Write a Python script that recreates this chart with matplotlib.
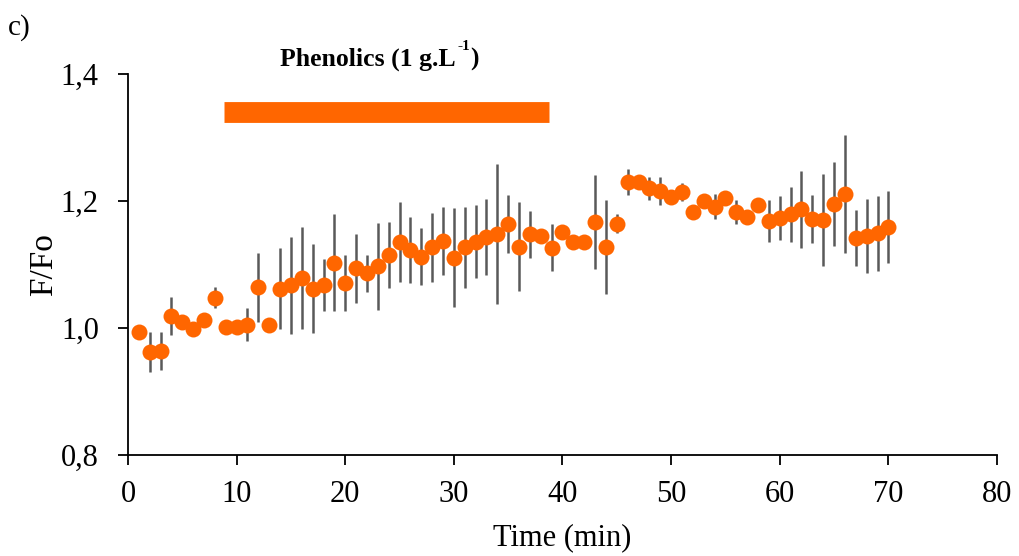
import numpy as np
import matplotlib
matplotlib.use('Agg')
from matplotlib import pyplot as plt

plt.rcParams['font.family'] = ['Liberation Serif', 'DejaVu Serif']

# 数据：时间 (min)，F/Fo 平均值和误差
time = np.arange(1, 71)
ffo = [0.994, 0.962, 0.964, 1.019, 1.010, 0.999, 1.013, 1.048, 1.002, 1.001,
       1.005, 1.064, 1.004, 1.062, 1.067, 1.079, 1.062, 1.068, 1.103, 1.071,
       1.094, 1.086, 1.097, 1.115, 1.135, 1.123, 1.112, 1.127, 1.137, 1.111,
       1.127, 1.136, 1.143, 1.148, 1.164, 1.128, 1.148, 1.145, 1.126, 1.151,
       1.135, 1.136, 1.167, 1.128, 1.164, 1.230, 1.230, 1.220, 1.216, 1.207,
       1.214, 1.182, 1.200, 1.191, 1.205, 1.183, 1.175, 1.194, 1.169, 1.173,
       1.179, 1.187, 1.172, 1.170, 1.195, 1.211, 1.142, 1.145, 1.149, 1.159]
err = [0.0, 0.032, 0.030, 0.030, 0.0, 0.0, 0.0, 0.017, 0.0, 0.0,
       0.026, 0.054, 0.0, 0.064, 0.076, 0.080, 0.070, 0.041, 0.077, 0.044,
       0.054, 0.029, 0.068, 0.052, 0.063, 0.052, 0.045, 0.054, 0.054, 0.078,
       0.064, 0.057, 0.060, 0.110, 0.046, 0.070, 0.037, 0.005, 0.037, 0.0,
       0.0, 0.0, 0.074, 0.074, 0.015, 0.020, 0.010, 0.018, 0.022, 0.0,
       0.014, 0.0, 0.0, 0.020, 0.0, 0.019, 0.0, 0.0, 0.033, 0.035,
       0.043, 0.061, 0.038, 0.072, 0.066, 0.093, 0.044, 0.058, 0.059, 0.057]

# 处理时段（酚类添加）
phenol_start, phenol_end, phenol_level = 8.8, 38.8, 1.340

xticks = [0, 10, 20, 30, 40, 50, 60, 70, 80]
yticks = [0.8, 1.0, 1.2, 1.4]
ytick_labels = ['0,8', '1,0', '1,2', '1,4']

orange = '#FF6600'

fig = plt.figure(figsize=(10.19, 5.56), dpi=100)
ax = fig.add_axes([0.1256, 0.1817, 0.8528, 0.6852])

ax.errorbar(time, ffo, yerr=err, fmt='none', ecolor='#595959', elinewidth=1.8, capsize=0, zorder=2)
ax.plot(time, ffo, 'o', color=orange, markersize=11.5, markeredgewidth=0, zorder=3)

# 处理时段横条
ax.plot([phenol_start, phenol_end], [phenol_level, phenol_level], color=orange, linewidth=15,
        solid_capstyle='butt', clip_on=False)

# 标题文字（上标单独画）
t1 = ax.text(14.0, 1.414, 'Phenolics (1 g.L', ha='left', va='baseline',
             fontsize=18.5, fontweight='bold', clip_on=False)
sup = ax.annotate('-1', xy=(1, 1), xycoords=t1, xytext=(1, 5), textcoords='offset points',
                  ha='left', va='top', fontsize=11, fontweight='bold')
ax.annotate(')', xy=(1, 0), xycoords=(sup, t1), ha='left', va='bottom',
            fontsize=18.5, fontweight='bold')

ax.set_xlim(0, 80)
ax.set_ylim(0.8, 1.4)
ax.set_xticks(xticks)
ax.set_yticks(yticks)
ax.set_yticklabels(ytick_labels)
ax.tick_params(axis='both', direction='out', length=7, width=1.3, labelsize=22)
ax.tick_params(axis='x', pad=11)
ax.tick_params(axis='y', pad=14)

for s in ['top', 'right']:
    ax.spines[s].set_visible(False)
for s in ['left', 'bottom']:
    ax.spines[s].set_linewidth(1.3)

ax.set_xlabel('Time (min)', fontsize=22, labelpad=10)
ax.set_ylabel('F/Fo', fontsize=24, labelpad=1)

fig.text(0.008, 0.95, 'c)', fontsize=21, ha='left', va='center')

plt.savefig('out.png', dpi=100)
